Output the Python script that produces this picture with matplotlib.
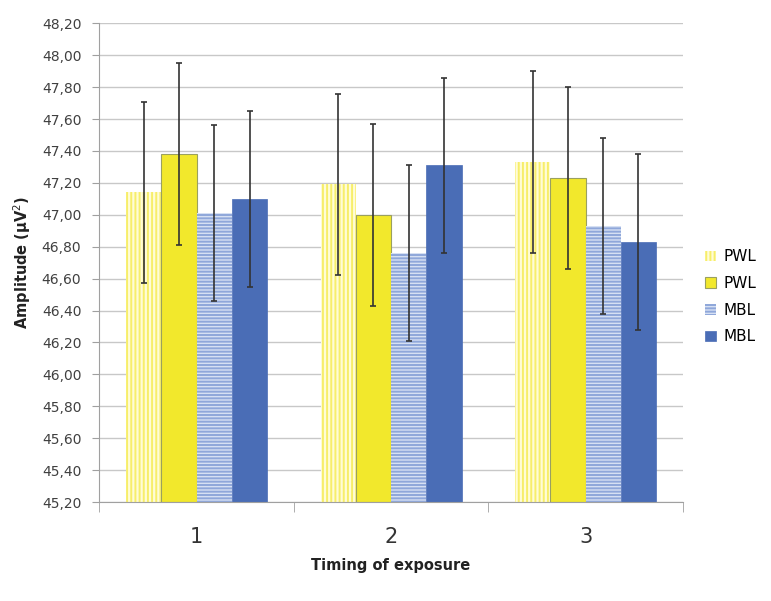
import matplotlib.pyplot as plt
import numpy as np

plt.rcParams['font.family'] = ['DejaVu Sans']
plt.rcParams['hatch.linewidth'] = 1.4

timing = ['1', '2', '3']
series = ['PWL', 'PWL', 'MBL', 'MBL']
pwl_a = [47.14, 47.19, 47.33]
pwl_b = [47.38, 47.00, 47.23]
mbl_a = [47.01, 46.76, 46.93]
mbl_b = [47.10, 47.31, 46.83]
err_pwl = 0.57
err_mbl = 0.55

values = [pwl_a, pwl_b, mbl_a, mbl_b]
errors = [err_pwl, err_pwl, err_mbl, err_mbl]

# face, edge/hatch colour, hatch, outline width
styles = [
    ('#FFFCD6', '#F7EE6A', '||||', 0),
    ('#F2E82C', '#9AA060', None, 0.8),
    ('#D6E0F3', '#8FA7DA', '-----', 0),
    ('#4A6DB6', '#4A6DB6', None, 0.5),
]

fig = plt.figure(figsize=(7.71, 6.01), dpi=100)
ax = fig.add_axes([0.129, 0.1647, 0.7565, 0.7965])

x = np.arange(len(timing))
w = 0.1815
for i, (vals, err, lab, st) in enumerate(zip(values, errors, series, styles)):
    face, edge, hatch, lw = st
    pos = x + (i - 1.5) * w
    ax.bar(pos, np.array(vals) - 45.2, w, bottom=45.2, color=face, edgecolor=edge,
           hatch=hatch, linewidth=lw, label=lab, zorder=2)
    ax.errorbar(pos, vals, yerr=err, fmt='none', ecolor='#333333', elinewidth=1.2,
                capsize=2.5, capthick=1.2, zorder=3)

ax.set_ylim(45.2, 48.2)
yt = np.arange(45.2, 48.21, 0.2)
ax.set_yticks(yt)
ax.set_yticklabels([('%.2f' % v).replace('.', ',') for v in yt], fontsize=10, color='#404040')
ax.set_xlim(-0.5, 2.5)
ax.set_xticks(x)
ax.set_xticklabels(timing, fontsize=15, color='#333333')
ax.set_xticks([-0.5, 0.5, 1.5, 2.5], minor=True)
ax.tick_params(axis='x', which='major', length=0, pad=18)
ax.tick_params(axis='x', which='minor', length=7, color='#A0A0A0')
ax.tick_params(axis='y', length=5, color='#A0A0A0', pad=8)

ax.grid(axis='y', color='#C8C8C8', linewidth=1, zorder=0)
ax.set_axisbelow(True)
for s in ['top', 'right']:
    ax.spines[s].set_visible(False)
for s in ['left', 'bottom']:
    ax.spines[s].set_color('#A0A0A0')

ax.set_xlabel('Timing of exposure', fontsize=10.5, fontweight='bold', color='#222222', labelpad=8)
ax.set_ylabel('Amplitude (µV$^2$)', fontsize=10.5, fontweight='bold', color='#222222', labelpad=6)

fig.legend(loc='center left', bbox_to_anchor=(0.897, 0.506), frameon=False, fontsize=11,
           handlelength=0.7, handleheight=0.7, handletextpad=0.5, labelspacing=0.76)

fig.savefig('out.png', dpi=100)
